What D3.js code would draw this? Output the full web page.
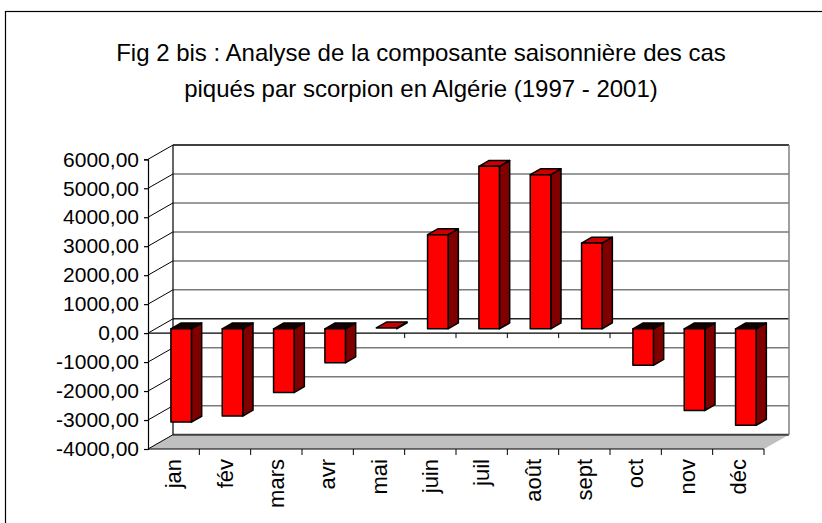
<!DOCTYPE html>
<html>
<head>
<meta charset="utf-8">
<script src="https://cdn.jsdelivr.net/npm/d3@7"></script>
<style>
body { margin: 0; background: #fff; }
text { font-family: "Liberation Sans", Arial, sans-serif; fill: #000; }
</style>
</head>
<body>
<svg class="theSvg" width="822" height="523"></svg>
<script>
var months = ["jan", "fév", "mars", "avr", "mai", "juin", "juil", "août", "sept", "oct", "nov", "déc"];
var values = [-3220, -3010, -2200, -1170, 30, 3250, 5610, 5320, 2960, -1260, -2820, -3330];
var yTicks = [-4000, -3000, -2000, -1000, 0, 1000, 2000, 3000, 4000, 5000, 6000];
var titleLines = ["Fig 2 bis : Analyse de la composante saisonnière des cas",
                  "piqués par scorpion en Algérie (1997 - 2001)"];

var svg = d3.select(".theSvg");

// depth offset of the back wall
var depthX = 25, depthY = 14.3;
var barDepth = 0.3, barThick = 0.41;

var x = d3.scaleBand().domain(months).range([148, 764]).paddingInner(0.6).paddingOuter(0.3);
var y = d3.scaleLinear().domain([-4000, 6000]).range([449, 159.3]);
var step = x.step();

var frLocale = d3.formatLocale({decimal: ",", thousands: "", grouping: [3], currency: ["", ""], minus: "-"});
var fmt = frLocale.format(".2f");

// outer frame
svg.append("rect")
    .attr("x", 5.5).attr("y", 11.5)
    .attr("width", 900).attr("height", 600)
    .attr("fill", "none").attr("stroke", "#000").attr("stroke-width", 1.2);

// title
svg.selectAll(".title")
    .data(titleLines)
    .enter()
    .append("text")
    .attr("class", "title")
    .attr("x", 421)
    .attr("y", function(d, i){ return 61 + i * 36; })
    .attr("text-anchor", "middle")
    .attr("font-size", "24px")
    .text(function(d){ return d; });

var x0 = x.range()[0], x1 = x.range()[1];

// floor
svg.append("polygon")
    .attr("points", [[x0, y(-4000)], [x1, y(-4000)], [x1 + depthX, y(-4000) - depthY], [x0 + depthX, y(-4000) - depthY]].join(" "))
    .attr("fill", "#c0c0c0");

// gridlines on back wall and side wall
var grid = svg.append("g");
grid.selectAll(".backGrid")
    .data(yTicks)
    .enter()
    .append("line")
    .attr("x1", x0 + depthX).attr("x2", x1 + depthX)
    .attr("y1", function(d){ return y(d) - depthY; })
    .attr("y2", function(d){ return y(d) - depthY; })
    .attr("stroke", function(d){ return d == 6000 ? "#000" : (d == 0 ? "#222" : (d == -4000 ? "#404040" : "#7a7a7a")); })
    .attr("stroke-width", function(d){ return d == -4000 ? 2 : 1.5; });

grid.selectAll(".sideGrid")
    .data(yTicks)
    .enter()
    .append("line")
    .attr("x1", x0).attr("x2", x0 + depthX)
    .attr("y1", function(d){ return y(d); })
    .attr("y2", function(d){ return y(d) - depthY; })
    .attr("stroke", "#000").attr("stroke-width", 1);

// wall edges
svg.append("line")
    .attr("x1", x0 + depthX).attr("x2", x0 + depthX)
    .attr("y1", y(6000) - depthY).attr("y2", y(-4000) - depthY)
    .attr("stroke", "#000").attr("stroke-width", 1.2);
svg.append("line")
    .attr("x1", x1 + depthX).attr("x2", x1 + depthX)
    .attr("y1", y(6000) - depthY).attr("y2", y(-4000) - depthY)
    .attr("stroke", "#808080").attr("stroke-width", 1.5);

// floor front edge
svg.append("line")
    .attr("x1", x0).attr("x2", x1)
    .attr("y1", y(-4000)).attr("y2", y(-4000))
    .attr("stroke", "#000").attr("stroke-width", 1.2);

// category axis at zero and floor ticks
var bounds = d3.range(1, months.length + 1).map(function(i){ return x0 + i * step; });
svg.append("line")
    .attr("x1", x0).attr("x2", x1)
    .attr("y1", y(0)).attr("y2", y(0))
    .attr("stroke", "#000").attr("stroke-width", 1.2);
svg.selectAll(".zeroTick")
    .data(bounds)
    .enter()
    .append("line")
    .attr("x1", function(d){ return d; }).attr("x2", function(d){ return d; })
    .attr("y1", y(0)).attr("y2", y(0) + 5)
    .attr("stroke", "#000").attr("stroke-width", 1);
svg.selectAll(".floorTick")
    .data(bounds)
    .enter()
    .append("line")
    .attr("x1", function(d){ return d; }).attr("x2", function(d){ return d; })
    .attr("y1", y(-4000)).attr("y2", y(-4000) + 6)
    .attr("stroke", "#000").attr("stroke-width", 1);

// value axis
var yAxis = svg.append("g")
    .attr("transform", "translate(" + x0 + ",0)")
    .call(d3.axisLeft(y).tickValues(yTicks).tickSize(4).tickPadding(5).tickFormat(fmt));
yAxis.select(".domain").attr("stroke", "#000").attr("stroke-width", 1.2);
yAxis.selectAll(".tick line").attr("stroke", "#000").attr("stroke-width", 1.2);
yAxis.selectAll(".tick text")
    .attr("font-size", "21px")
    .attr("font-family", "Liberation Sans, Arial, sans-serif")
    .attr("fill", "#000");

// month labels
svg.selectAll(".monthLabel")
    .data(months)
    .enter()
    .append("text")
    .attr("class", "monthLabel")
    .attr("text-anchor", "end")
    .attr("dominant-baseline", "central")
    .attr("font-size", "22px")
    .attr("transform", function(d){ return "translate(" + (x(d) + x.bandwidth() / 2) + ",459) rotate(-90)"; })
    .text(function(d){ return d; });

// 3d bars
var bdx = depthX * barDepth, bdy = depthY * barDepth;
var sdx = depthX * barThick, sdy = depthY * barThick;

var bars = svg.selectAll(".bar")
    .data(months.map(function(m, i){ return {month: m, value: values[i]}; }))
    .enter()
    .append("g")
    .attr("class", "bar")
    .attr("stroke", "#000")
    .attr("stroke-width", 1.5)
    .attr("stroke-linejoin", "round");

function pt(px, py){ return px + "," + py; }

bars.each(function(d){
    var g = d3.select(this);
    var left = x(d.month) + bdx;
    var right = left + x.bandwidth();
    var top = y(Math.max(d.value, 0)) - bdy;
    var bottom = y(Math.min(d.value, 0)) - bdy;

    g.append("polygon")
        .attr("points", [pt(right, top), pt(right + sdx, top - sdy), pt(right + sdx, bottom - sdy), pt(right, bottom)].join(" "))
        .attr("fill", "#800000");
    g.append("polygon")
        .attr("points", [pt(left, top), pt(right, top), pt(right + sdx, top - sdy), pt(left + sdx, top - sdy)].join(" "))
        .attr("fill", d.value >= 0 ? "#cc0000" : "#120000");
    if (bottom - top > 1) {
        g.append("rect")
            .attr("x", left).attr("y", top)
            .attr("width", right - left).attr("height", bottom - top)
            .attr("fill", "#ff0000");
    }
});
</script>
</body>
</html>
